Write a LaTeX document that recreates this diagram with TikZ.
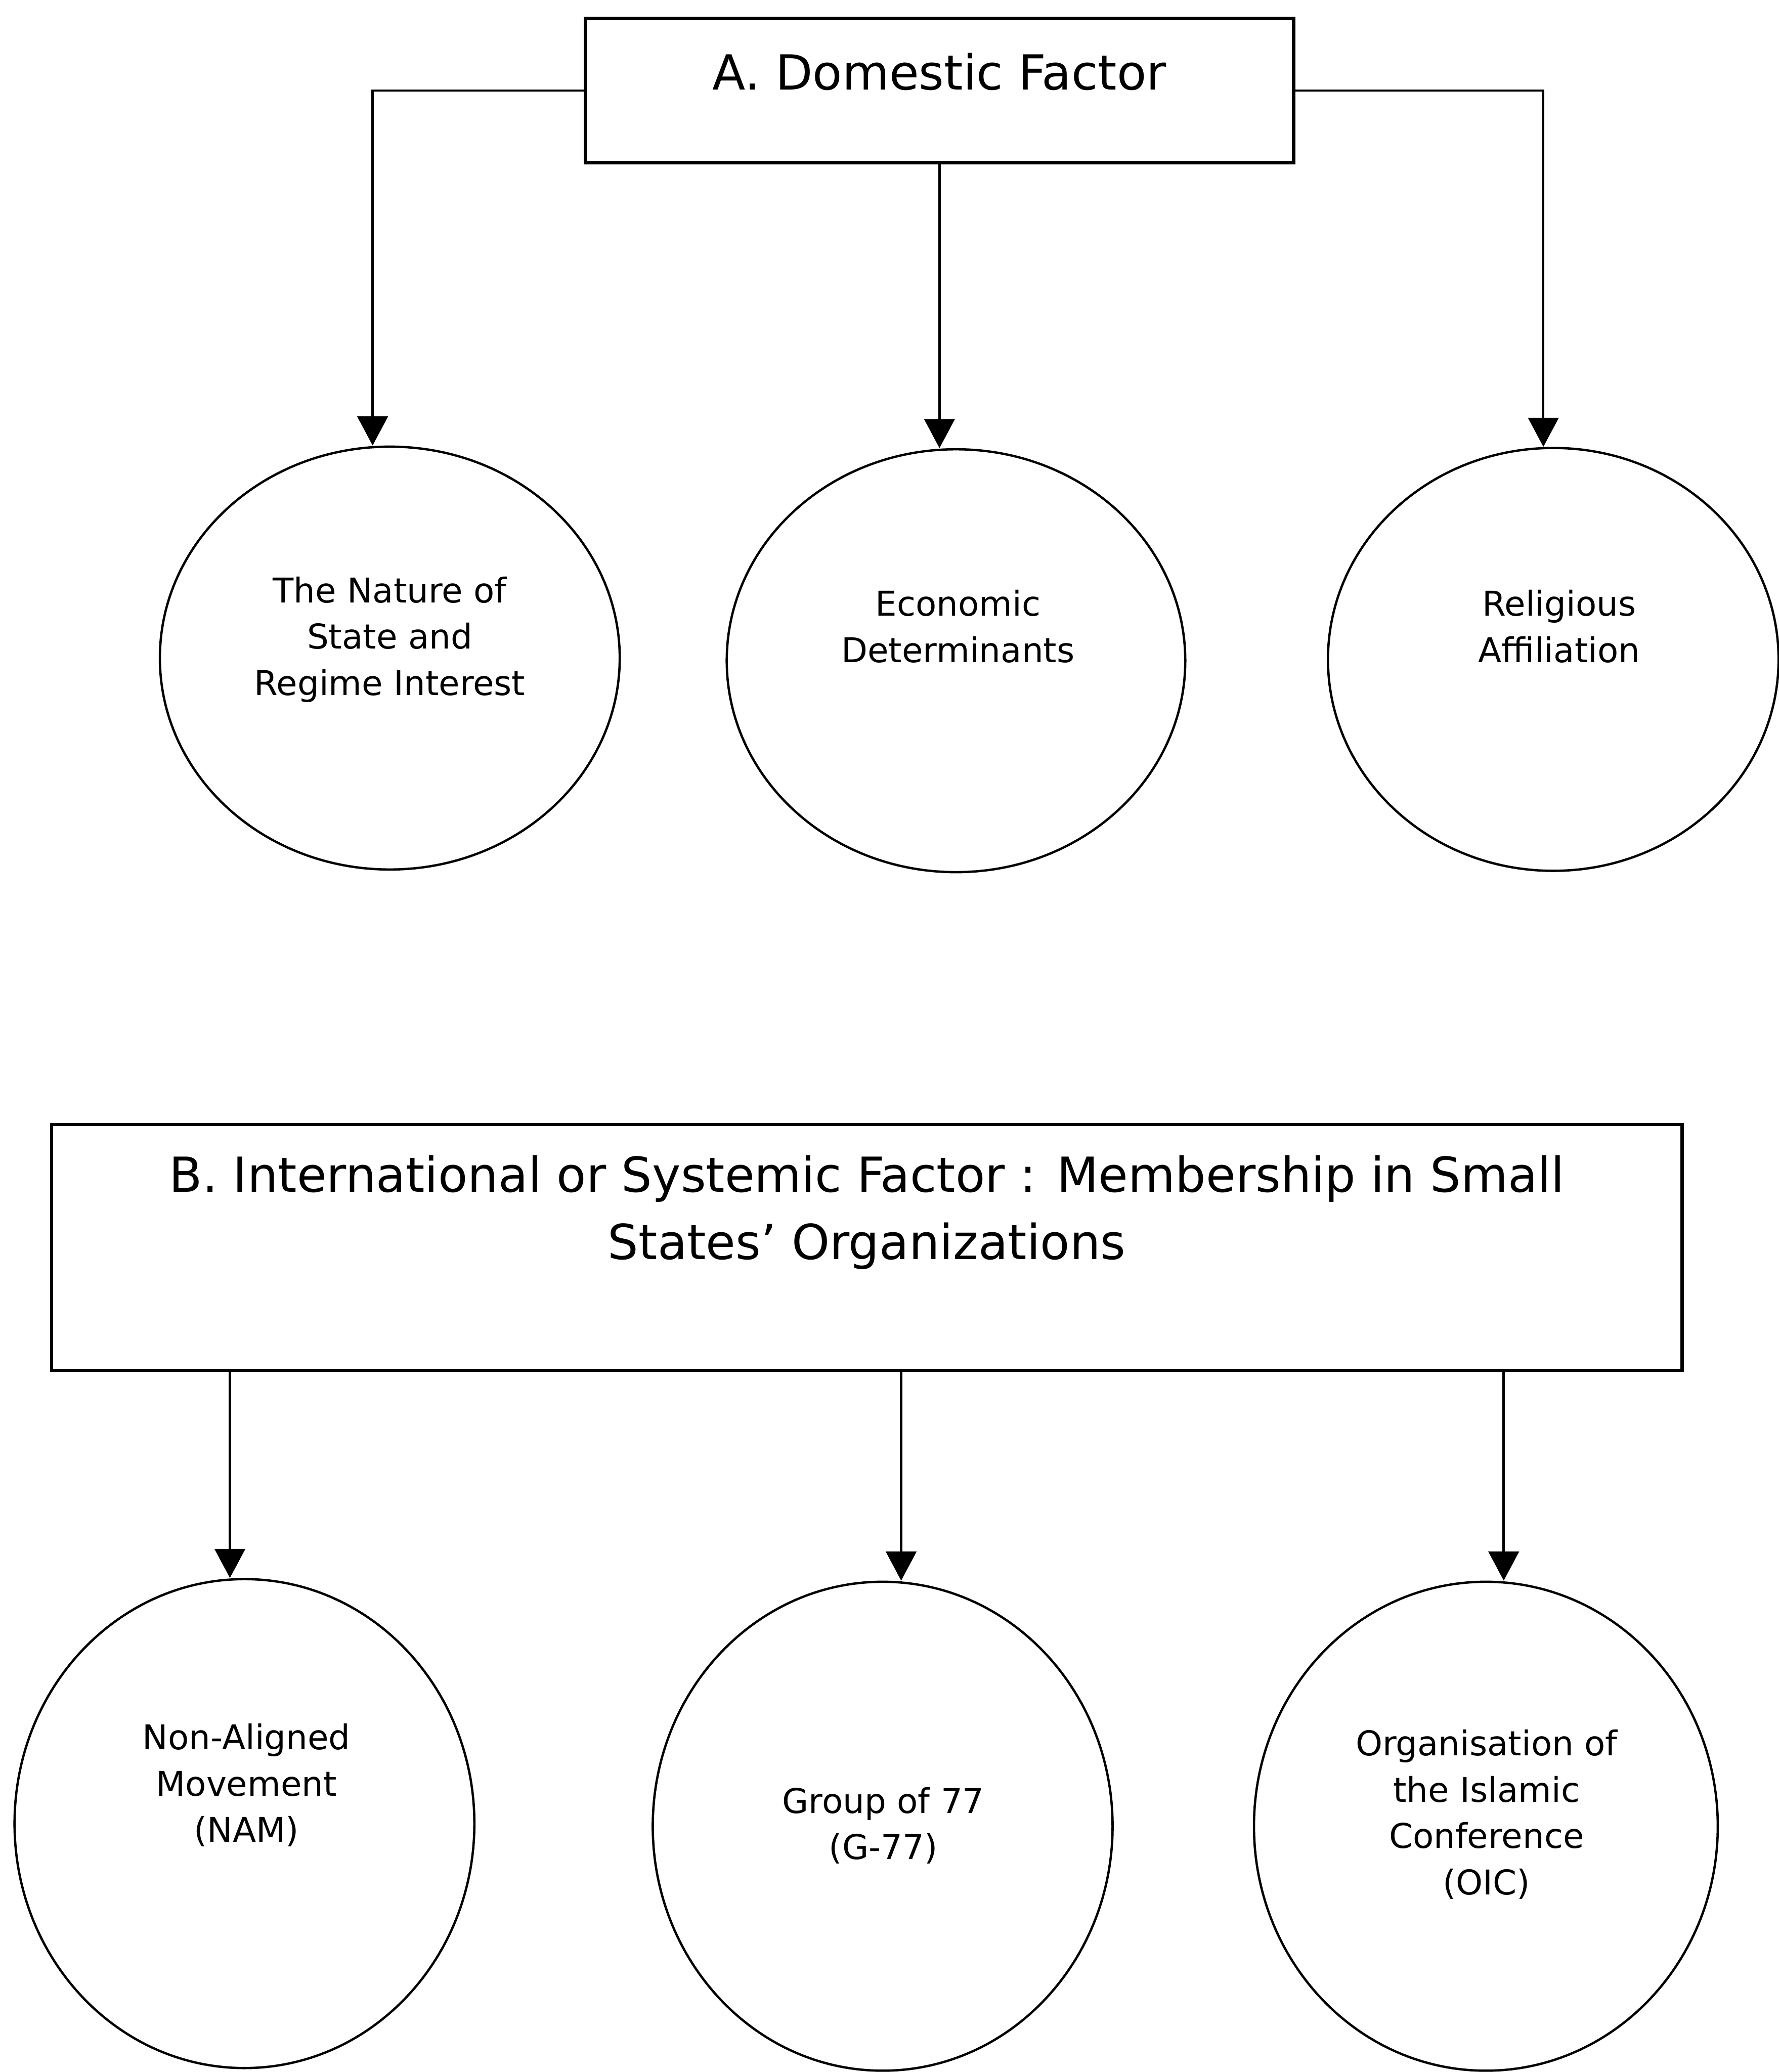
\documentclass[tikz,border=0pt]{standalone}
\usepackage{fontspec}
\setmainfont{DejaVu Sans}
\usetikzlibrary{shapes.geometric,arrows.meta}

\tikzset{
	factor/.style={draw, line width=0.7pt, inner sep=0pt, align=center, font=\fontsize{10.4}{14.5}\selectfont},
	circ/.style={draw, ellipse, line width=0.5pt, inner sep=0pt},
	lbl/.style={align=center, inner sep=0pt, font=\fontsize{7.35}{9.96}\selectfont},
	arr/.style={line width=0.5pt, -{Triangle[length=0.22cm,width=0.23cm]}}
}

\begin{document}
\begin{tikzpicture}
		\useasboundingbox (0,0) rectangle (13.46,-15.68);

		\node [factor, minimum width=5.36cm, minimum height=1.09cm, text height=0.54cm, text depth=0.55cm] (domestic) at (7.11,-0.685) {A. Domestic Factor};

		\node [circ, minimum width=3.48cm, minimum height=3.2cm] (nature) at (2.95,-4.98) {};
		\node [circ, minimum width=3.47cm, minimum height=3.2cm] (economic) at (7.235,-5.0) {};
		\node [circ, minimum width=3.41cm, minimum height=3.2cm] (religious) at (11.755,-4.99) {};

		\draw [arr] (domestic.west) -| ([xshift=-0.13cm]nature.north);
		\draw [arr] (domestic.south) -- (domestic.south |- economic.north);
		\draw [arr] (domestic.east) -| ([xshift=-0.075cm]religious.north);

		\node [lbl] (nature_txt) at (2.95,-4.84) {The Nature of\\State and\\Regime Interest};
		\node [lbl] (economic_txt) at (7.25,-4.74) {Economic\\Determinants};
		\node [lbl] (religious_txt) at (11.80,-4.74) {Religious\\Affiliation};

		\node [factor, minimum width=12.34cm, minimum height=1.86cm] (systemic) at (6.56,-9.44) {B. International or Systemic Factor : Membership in Small\\States’ Organizations\\[0.1cm]~};

		\coordinate (s_1) at ([xshift=-4.82cm]systemic.south);
		\coordinate (s_2) at ([xshift=0.26cm]systemic.south);
		\coordinate (s_3) at ([xshift=4.82cm]systemic.south);

		\node [circ, minimum width=3.48cm, minimum height=3.7cm] (nam) at (1.85,-13.80) {};
		\node [circ, minimum width=3.48cm, minimum height=3.7cm] (g77) at (6.68,-13.82) {};
		\node [circ, minimum width=3.51cm, minimum height=3.7cm] (oic) at (11.245,-13.82) {};

		\draw [arr] (s_1) -- (s_1 |- nam.north);
		\draw [arr] (s_2) -- (s_2 |- g77.north);
		\draw [arr] (s_3) -- (s_3 |- oic.north);

		\node [lbl] (nam_txt) at (1.865,-13.51) {Non-Aligned\\Movement\\(NAM)};
		\node [lbl] (g77_txt) at (6.685,-13.815) {Group of 77\\(G-77)};
		\node [lbl] (oic_txt) at (11.25,-13.73) {Organisation of\\the Islamic\\Conference\\(OIC)};

	\end{tikzpicture}
\end{document}
